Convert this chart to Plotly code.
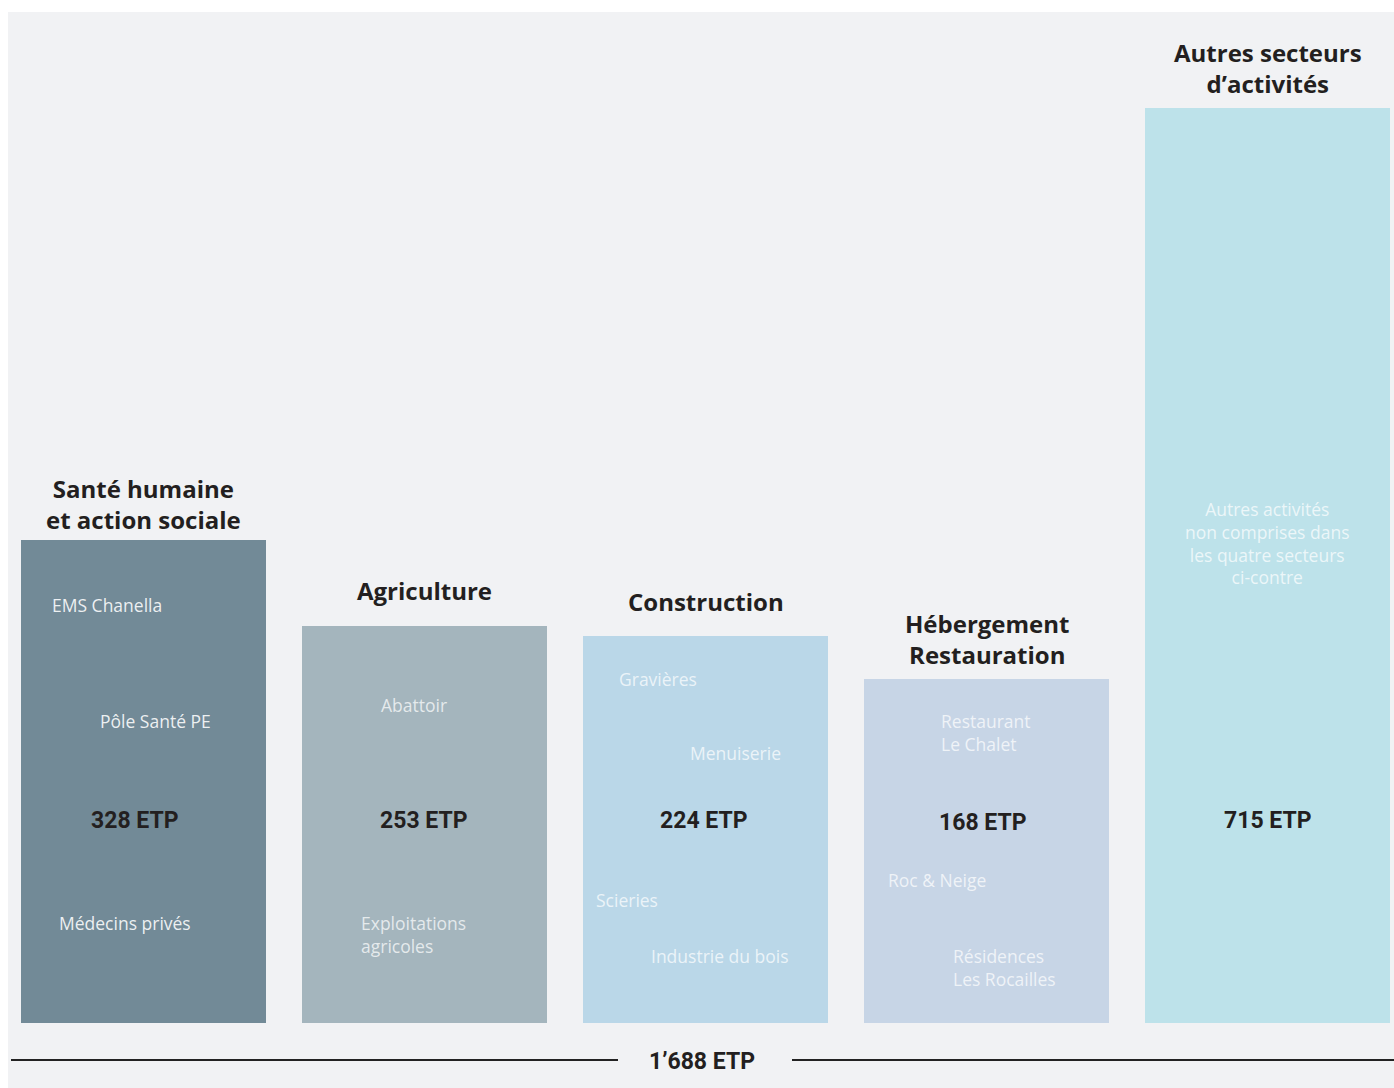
import plotly.graph_objects as go

# ---- data ----
sectors = ["Santé humaine<br>et action sociale", "Agriculture", "Construction",
           "Hébergement<br>Restauration", "Autres secteurs<br>d’activités"]
etp = [328, 253, 224, 168, 715]
# visual bar height as drawn in the infographic (% of tallest bar)
bar_height = [52.7, 43.3, 42.2, 37.5, 100.0]
bar_colors = ["#728a97", "#a4b5bd", "#bad7e8", "#c7d5e6", "#bde2ea"]

# inner labels: (bar index, text)
inner_labels = [
    (0, "EMS Chanella"), (0, "Pôle Santé PE"), (0, "Médecins privés"),
    (1, "Abattoir"), (1, "Exploitations<br>agricoles"),
    (2, "Gravières"), (2, "Menuiserie"), (2, "Scieries"), (2, "Industrie du bois"),
    (3, "Restaurant<br>Le Chalet"), (3, "Roc &amp; Neige"), (3, "Résidences<br>Les Rocailles"),
    (4, "Autres activités<br>non comprises dans<br>les quatre secteurs<br>ci-contre"),
]

# ---- layout helpers (pixel placement of annotations) ----
W, H = 1394, 1088
ML, MT = 8, 12
SPACING = 281.0          # px per category
C0 = 143.5               # page x of first bar centre
BASE_Y = 1022.5          # page y of bars baseline
PX_PER_UNIT = 9.15       # px per bar_height unit
BAR_W = 0.872
FONT = "Open Sans"

def dx(px):             # px offset -> category units
    return px / SPACING

def ydata(py):          # page y -> data y
    return (BASE_Y - py) / PX_PER_UNIT

x_lo = -(C0 - ML) / SPACING
x_hi = 4 + (W - (C0 + 4 * SPACING)) / SPACING
y_lo = ydata(H)
y_hi = ydata(MT)

idx = list(range(len(sectors)))

fig = go.Figure()
fig.add_trace(go.Bar(
    x=idx, y=bar_height, width=BAR_W,
    marker=dict(color=bar_colors, line=dict(width=0)),
    hoverinfo="skip", showlegend=False,
))

ann = []
title_y = [504, 590, 601, 639, 67.5]
for i, t in enumerate(sectors):
    ann.append(dict(x=i, y=ydata(title_y[i]), text=f"<b>{t}</b>", showarrow=False,
                    xanchor="center", yanchor="middle",
                    font=dict(family=FONT, size=24, color="#231f20")))

val_dx = [-8.5, -1, -1.5, -4, 0]
val_y = [820, 820, 820, 822, 820]
for i, v in enumerate(etp):
    ann.append(dict(x=i + dx(val_dx[i]), y=ydata(val_y[i]), text=f"<b>{v} ETP</b>",
                    showarrow=False, xanchor="center", yanchor="middle",
                    font=dict(family="Roboto", size=23, color="#231f20")))

# placement of inner labels: (px from bar left edge, page y centre, anchor)
inner_pos = [
    (29, 605, "left"), (77, 721, "left"), (36, 923, "left"),
    (77, 705, "left"), (57, 934.5, "left"),
    (34, 679, "left"), (105, 753, "left"), (11, 900, "left"), (66, 956, "left"),
    (75, 732, "left"), (22, 880, "left"), (87, 967, "left"),
    (122.5, 542.5, "center"),
]
half = BAR_W / 2
for (i, txt), (px, py, anc) in zip(inner_labels, inner_pos):
    col = "rgba(255,255,255,0.88)" if i == 0 else "rgba(255,255,255,0.72)"
    ann.append(dict(x=i - half + dx(px), y=ydata(py), text=txt, showarrow=False,
                    xanchor=anc, yanchor="middle", align=anc,
                    font=dict(family=FONT, size=17.5, color=col)))

total = sum(etp)
total_txt = f"{total:,}".replace(",", "’")
ann.append(dict(x=(702 - ML) / (W - ML), xref="paper", y=ydata(1061), yref="y",
                text=f"<b>{total_txt} ETP</b>", showarrow=False,
                xanchor="center", yanchor="middle",
                font=dict(family="Roboto", size=23, color="#231f20")))

def px_paper(px):
    return (px - ML) / (W - ML)

shapes = [
    dict(type="line", xref="paper", yref="y", x0=px_paper(11), x1=px_paper(618),
         y0=ydata(1060), y1=ydata(1060), line=dict(color="#222222", width=1.8)),
    dict(type="line", xref="paper", yref="y", x0=px_paper(792), x1=1.0,
         y0=ydata(1060), y1=ydata(1060), line=dict(color="#222222", width=1.8)),
]

fig.update_layout(
    width=W, height=H,
    margin=dict(l=ML, t=MT, r=0, b=0, pad=0),
    paper_bgcolor="#ffffff", plot_bgcolor="#f1f2f4",
    xaxis=dict(range=[x_lo, x_hi], visible=False, fixedrange=True),
    yaxis=dict(range=[y_lo, y_hi], visible=False, fixedrange=True),
    annotations=ann, shapes=shapes, bargap=0,
)

fig.write_html("out.html", config={"displayModeBar": False})
